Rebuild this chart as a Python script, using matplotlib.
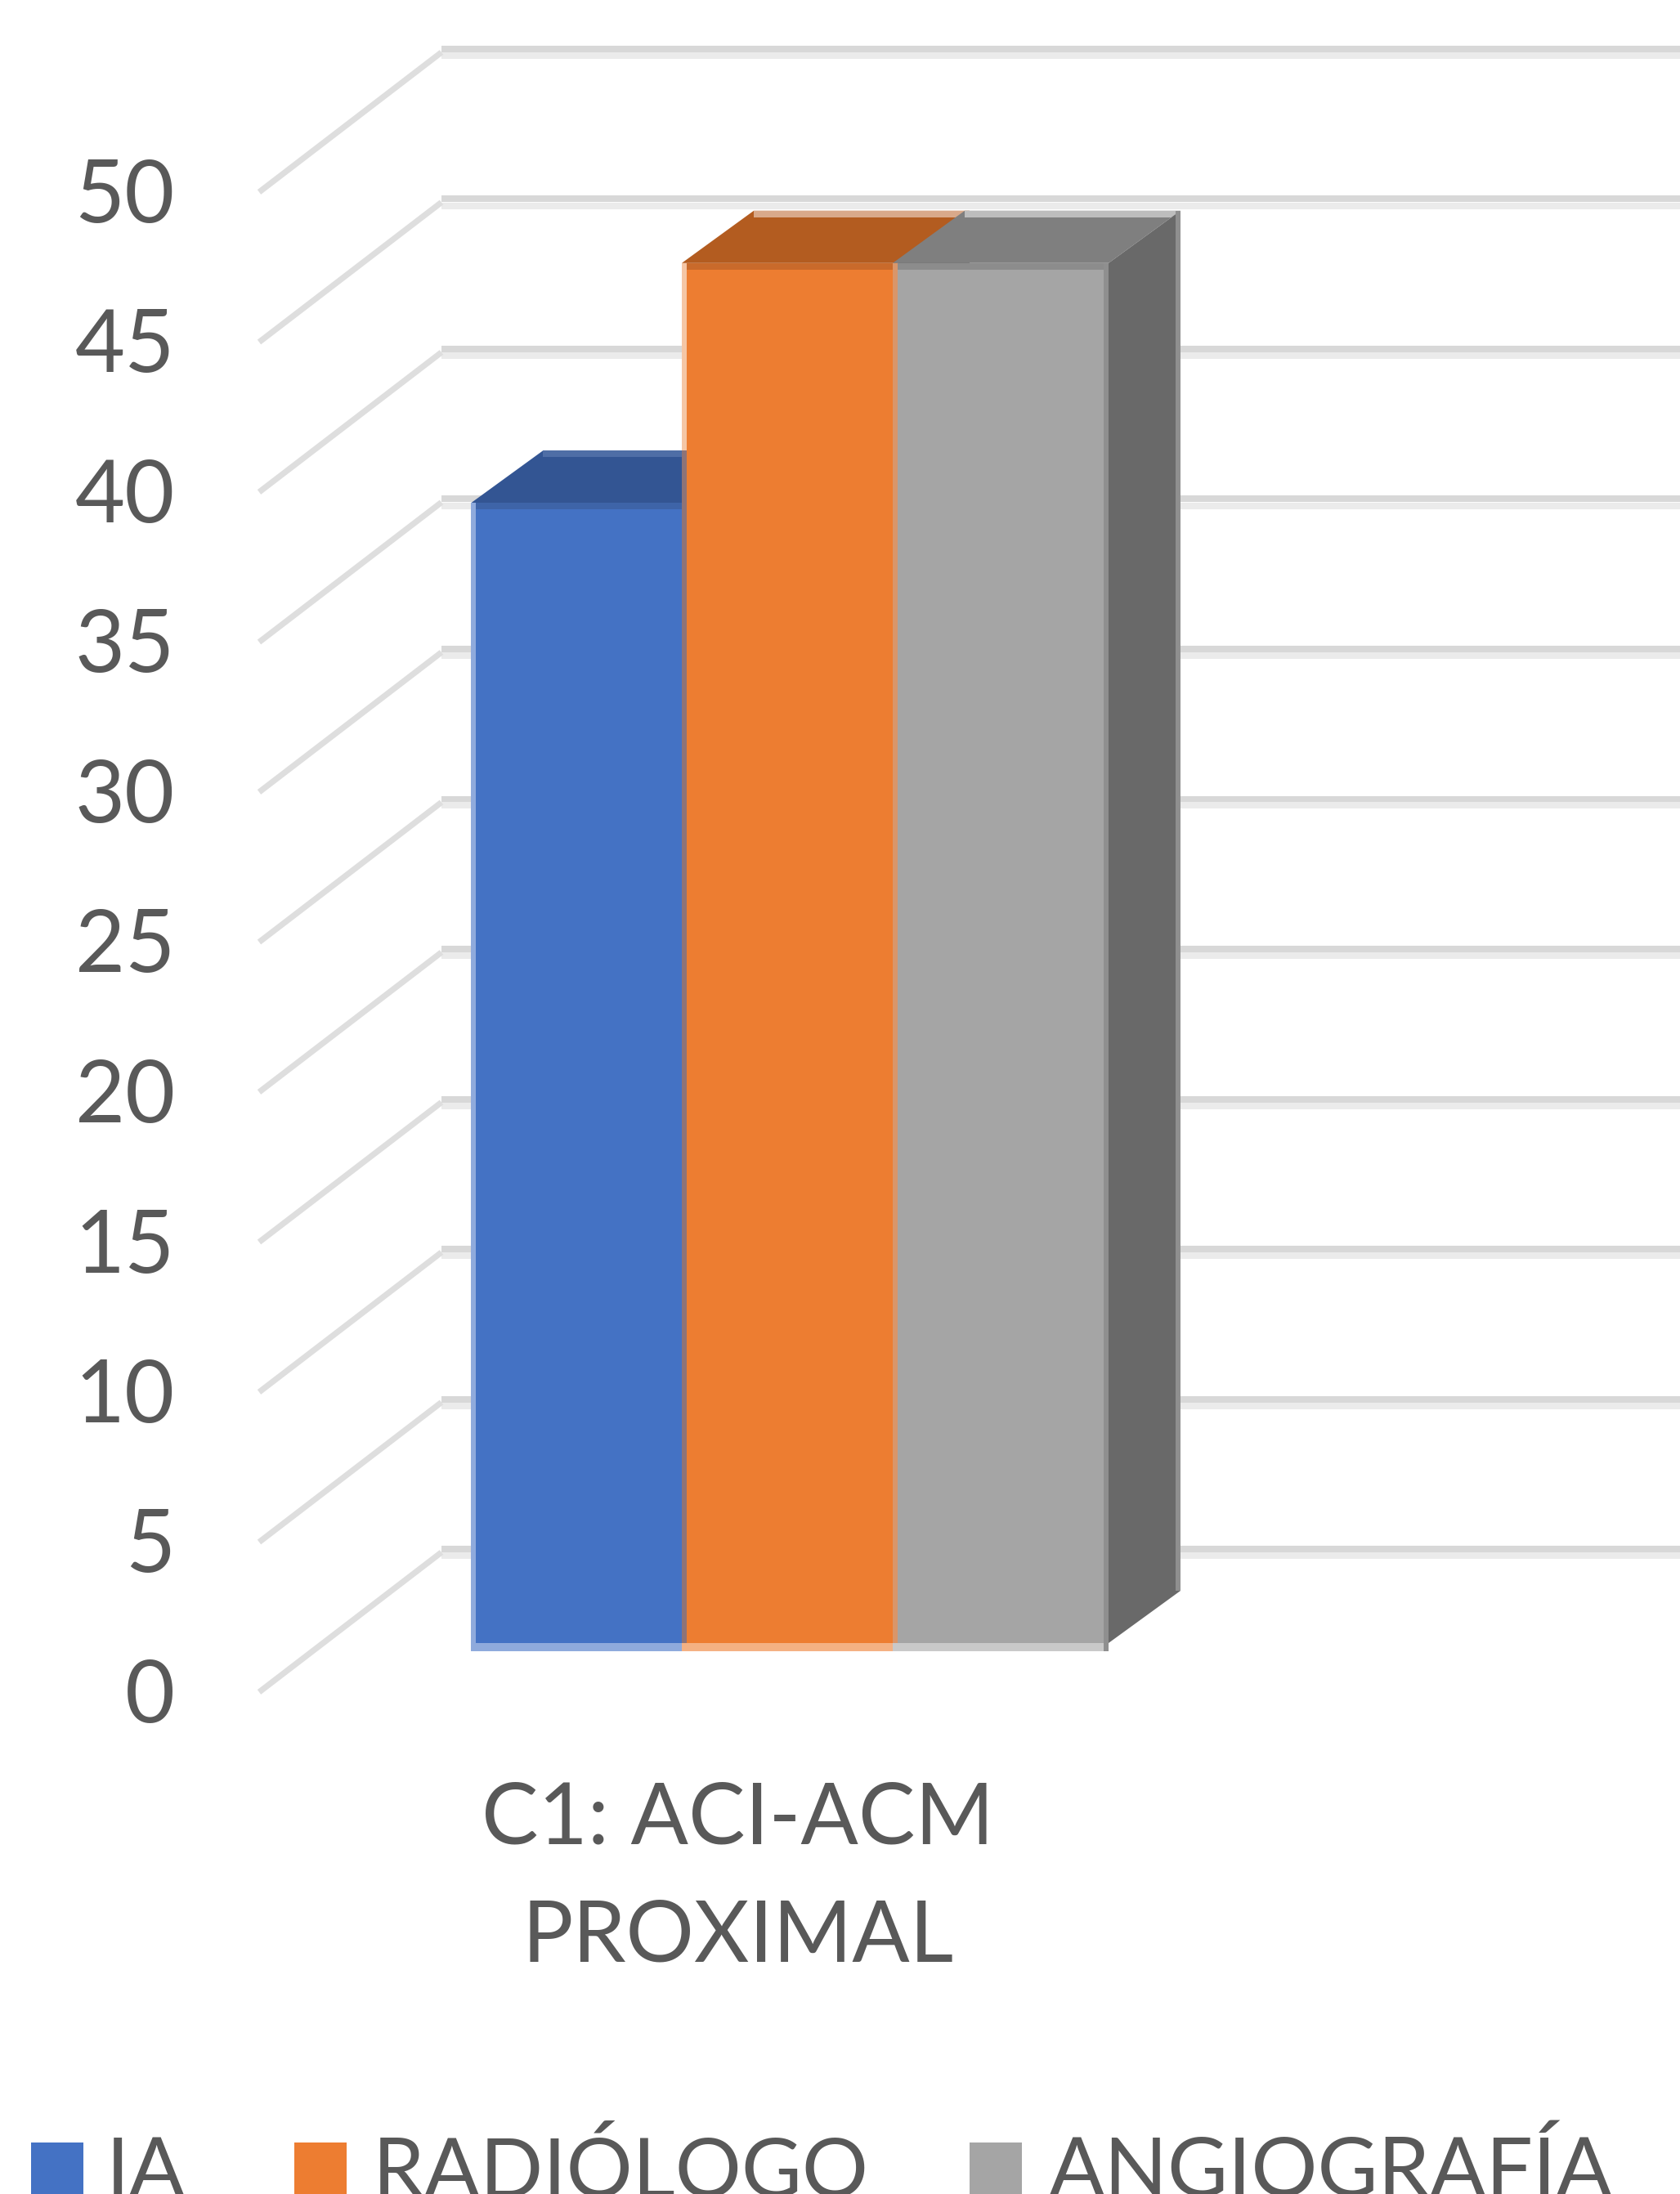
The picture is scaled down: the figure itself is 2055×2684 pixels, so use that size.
import matplotlib
matplotlib.use("Agg")
import matplotlib.pyplot as plt
from matplotlib.patches import Polygon, Rectangle

plt.rcParams["font.family"] = ["Lato", "DejaVu Sans"]

# Data
categories = ["C1: ACI-ACM\nPROXIMAL"]
series_names = ["IA", "RADIÓLOGO", "ANGIOGRAFÍA"]
series_values = [38, 46, 46]
y_ticks = [0, 5, 10, 15, 20, 25, 30, 35, 40, 45, 50]

# Colours per series
front_colors = ["#4472C4", "#ED7D31", "#A5A5A5"]
top_colors = ["#335593", "#B35C20", "#7F7F7F"]
band_colors = ["#3E64A8", "#C96A2B", "#8C8C8C"]
top_edge_colors = ["#4F6EA6", "#D9A98A", "#BDBDBD"]
left_edge_colors = ["#8FAADC", "#F5C6A5", "#D9966A"]
base_colors = ["#8FAADC", "#F4B183", "#C9C9C9"]
side_color = "#696969"
side_edge = "#8F8F8F"
text_color = "#595959"

W, H = 2055, 2684
PX_X = 258.0   # pixels per bar width
PX_Y = 36.7    # pixels per value unit
CENTER = 963   # pixel column of the middle bar

fig = plt.figure(figsize=(W / 100, H / 100), dpi=100, facecolor="white")
ax = fig.add_axes([0, 0, 1, 1])
ax.set_xlim(-CENTER / PX_X, (W - CENTER) / PX_X)
ax.set_ylim(-(H - 1899) / PX_Y, 50 + 64 / PX_Y)
ax.axis("off")

# 3D layout, in axis units
wall_x = (540 - CENTER) / PX_X
floor_dx = 223 / PX_X
floor_dy = 171 / PX_Y
bar_base = -(2010 - 1899) / PX_Y
bar_dx = 88 / PX_X
bar_dy = 64 / PX_Y
strip_x = 6 / PX_X
strip_y = 8 / PX_Y

# Back wall gridlines and the side wall lines
for v in y_ticks:
    ax.plot([wall_x, ax.get_xlim()[1]], [v + 4 / PX_Y] * 2, color="#D8D8D8", lw=5.8,
            solid_capstyle="butt", zorder=1)
    ax.plot([wall_x, ax.get_xlim()[1]], [v - 4 / PX_Y] * 2, color="#EBEBEB", lw=5.8,
            solid_capstyle="butt", zorder=1)
    ax.plot([wall_x - floor_dx, wall_x], [v - floor_dy, v], color="#DEDEDE", lw=5.2,
            solid_capstyle="butt", zorder=1)
    ax.text(wall_x - floor_dx - 103 / PX_X, v - floor_dy - 7 / PX_Y, str(v), color=text_color,
            fontsize=76, ha="right", va="center", zorder=5)

# Bars: top and side faces first, then the front
for i, val in enumerate(series_values):
    x0 = i - 1 - 0.5
    x1 = i - 1 + 0.5
    xe = x1 + strip_x
    top = bar_base + val
    z = 2 + i * 0.1
    ax.add_patch(Polygon([[x0, top], [xe, top], [xe + bar_dx, top + bar_dy], [x0 + bar_dx, top + bar_dy]],
                         closed=True, facecolor=top_colors[i], edgecolor="none", zorder=z))
    ax.add_patch(Rectangle((x0 + bar_dx, top + bar_dy - strip_y), xe - x0, strip_y,
                           facecolor=top_edge_colors[i], edgecolor="none", zorder=z))
    ax.add_patch(Polygon([[xe, bar_base], [xe + bar_dx, bar_base + bar_dy],
                          [xe + bar_dx, top + bar_dy], [xe, top]],
                         closed=True, facecolor=side_color, edgecolor="none", zorder=z))
    ax.bar(x0 + 0.5, val, width=1.0, bottom=bar_base, color=front_colors[i], linewidth=0, zorder=z)
    ax.add_patch(Rectangle((x0, top - strip_y), xe - x0, strip_y,
                           facecolor=band_colors[i], edgecolor="none", zorder=z))
    ax.add_patch(Rectangle((x0, bar_base - 10 / PX_Y), x1 - x0, 10 / PX_Y,
                           facecolor=base_colors[i], edgecolor="none", zorder=z))
    ax.add_patch(Rectangle((x0, bar_base), strip_x, val,
                           facecolor=left_edge_colors[i], edgecolor="none", zorder=z))

# Blue bar seen next to the orange edge, and the grey bar's outer edges
ax.add_patch(Rectangle((-0.5, bar_base), strip_x, series_values[0] + bar_dy,
                       facecolor="#8E7377", edgecolor="none", zorder=3))
right = 1.5 + strip_x
ax.add_patch(Rectangle((right - strip_x, bar_base - 10 / PX_Y), strip_x, series_values[2] + 10 / PX_Y,
                       facecolor=side_edge, edgecolor="none", zorder=3))
ax.add_patch(Rectangle((right + bar_dx - strip_x, bar_base + bar_dy), strip_x, series_values[2],
                       facecolor=side_edge, edgecolor="none", zorder=3))

# Category label
label_x = (903 - CENTER) / PX_X
for line, py in zip(categories[0].split("\n"), [2226, 2370]):
    ax.text(label_x, -(py - 1899) / PX_Y, line, color=text_color, fontsize=75,
            ha="center", va="center", zorder=5)

# Legend, running off the bottom edge
legend_swatch_x = [38, 360, 1186]
legend_text_x = [130, 456, 1283]
for name, sx, tx, c in zip(series_names, legend_swatch_x, legend_text_x, front_colors):
    fig.patches.append(Rectangle((sx / W, 0), 64 / W, (H - 2621) / H, transform=fig.transFigure,
                                 facecolor=c, edgecolor="none"))
    fig.text(tx / W, (H - 2687) / H, name, color=text_color, fontsize=73, ha="left", va="baseline")

fig.savefig("out.png", dpi=100)
plt.close(fig)
